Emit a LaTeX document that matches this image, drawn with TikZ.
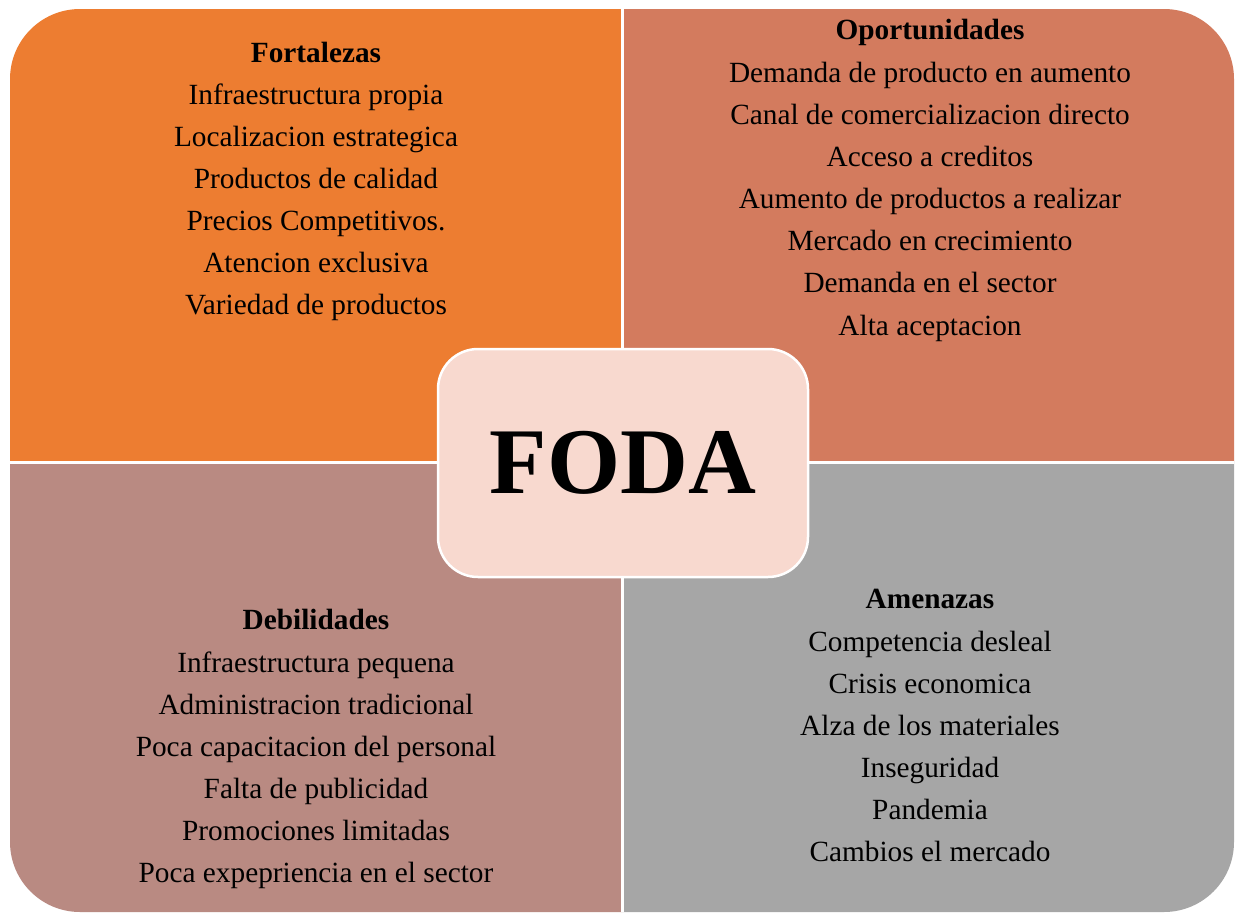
\documentclass[tikz,border=0pt]{standalone}
\usepackage{fontspec}
\setmainfont{Liberation Serif}

\definecolor{fortcol}{HTML}{ED7D31}
\definecolor{oporcol}{HTML}{D37B5E}
\definecolor{debicol}{HTML}{B98A82}
\definecolor{amencol}{HTML}{A6A6A6}
\definecolor{fodacol}{HTML}{F8D9CF}

\tikzset{
    item/.style={anchor=base, inner sep=0pt, font=\fontsize{29.3}{35}\selectfont},
    head/.style={item, font=\fontsize{29.3}{35}\selectfont\bfseries},
    foda box/.style={draw=white, line width=2.5pt, fill=fodacol, rounded corners=40pt,
        minimum width=370pt, minimum height=228pt, inner sep=0pt,
        font=\fontsize{94}{100}\selectfont\bfseries}
}

\begin{document}
\begin{tikzpicture}[x=1pt, y=-1pt]
    \useasboundingbox (0,0) rectangle (1235,913);

    % quadrants
    \fill[fortcol] (10,462) [rounded corners=70pt] -- (10,9) [sharp corners] -- (622,9) -- (622,462) -- cycle;
    \fill[oporcol] (622,9) [rounded corners=70pt] -- (1234,9) [sharp corners] -- (1234,462) -- (622,462) -- cycle;
    \fill[debicol] (622,462) -- (622,912) [rounded corners=70pt] -- (10,912) [sharp corners] -- (10,462) -- cycle;
    \fill[amencol] (622,462) -- (1234,462) [rounded corners=70pt] -- (1234,912) [sharp corners] -- (622,912) -- cycle;
    \draw[white, line width=2.5pt] (622.5,9) -- (622.5,912);
    \draw[white, line width=2.5pt] (10,462.5) -- (1234,462.5);

    % Fortalezas
    \node[head] (f0) at (316, 62) {Fortalezas};
    \node[item] (f1) at (316, 104) {Infraestructura propia};
    \node[item] (f2) at (316, 146) {Localizacion estrategica};
    \node[item] (f3) at (316, 188) {Productos de calidad};
    \node[item] (f4) at (316, 230) {Precios Competitivos.};
    \node[item] (f5) at (316, 272) {Atencion exclusiva};
    \node[item] (f6) at (316, 314) {Variedad de productos};

    % Oportunidades
    \node[head] (o0) at (930, 39) {Oportunidades};
    \node[item] (o1) at (930, 82) {Demanda de producto en aumento};
    \node[item] (o2) at (930, 124) {Canal de comercializacion directo};
    \node[item] (o3) at (930, 166) {Acceso a creditos};
    \node[item] (o4) at (930, 208) {Aumento de productos a realizar};
    \node[item] (o5) at (930, 250) {Mercado en crecimiento};
    \node[item] (o6) at (930, 292) {Demanda en el sector};
    \node[item] (o7) at (930, 335) {Alta aceptacion};

    % Debilidades
    \node[head] (d0) at (316, 629) {Debilidades};
    \node[item] (d1) at (316, 672) {Infraestructura pequena};
    \node[item] (d2) at (316, 714) {Administracion tradicional};
    \node[item] (d3) at (316, 756) {Poca capacitacion del personal};
    \node[item] (d4) at (316, 798) {Falta de publicidad};
    \node[item] (d5) at (316, 840) {Promociones limitadas};
    \node[item] (d6) at (316, 882) {Poca expepriencia en el sector};

    % Amenazas
    \node[head] (a0) at (930, 608) {Amenazas};
    \node[item] (a1) at (930, 651) {Competencia desleal};
    \node[item] (a2) at (930, 693) {Crisis economica};
    \node[item] (a3) at (930, 735) {Alza de los materiales};
    \node[item] (a4) at (930, 777) {Inseguridad};
    \node[item] (a5) at (930, 819) {Pandemia};
    \node[item] (a6) at (930, 861) {Cambios el mercado};

    % center
    \node[foda box] (foda) at (623, 463) {FODA};
\end{tikzpicture}
\end{document}
